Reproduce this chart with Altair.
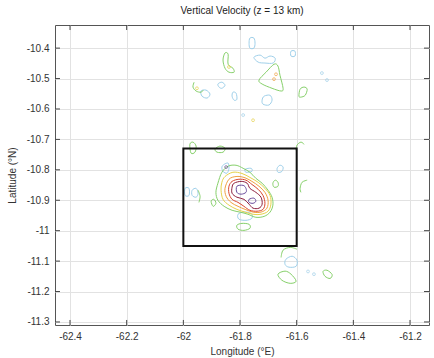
import altair as alt
import pandas as pd

title_text = "Vertical Velocity (z = 13 km)"
x_title = "Longitude (°E)"
y_title = "Latitude (°N)"

lon_ticks = [-62.4, -62.2, -62.0, -61.8, -61.6, -61.4, -61.2]
lat_ticks = [-11.3, -11.2, -11.1, -11.0, -10.9, -10.8, -10.7, -10.6, -10.5, -10.4]
lon_range = [-62.453, -61.133]
lat_range = [-11.31, -10.324]

box_lon = [-62.0, -61.6]
box_lat = [-11.05, -10.73]

levels = ["neg", "w1", "w2", "w3", "w4", "w5", "w6"]
level_colors = ["#9fd0ea", "#86d06a", "#e6d24a", "#f0a040", "#d9452e", "#8c1d3c", "#6a4c9c"]

# closed contour loops, each (lon list, lat list)
closed_neg = [
    ([-61.765, -61.751, -61.747, -61.751, -61.765, -61.768], [-10.367, -10.367, -10.384, -10.400, -10.400, -10.384]),
    ([-61.751, -61.729, -61.712, -61.694, -61.676, -61.683, -61.712, -61.736], [-10.430, -10.423, -10.433, -10.426, -10.433, -10.449, -10.449, -10.446]),
    ([-61.715, -61.694, -61.687, -61.698, -61.719, -61.722], [-10.558, -10.555, -10.571, -10.587, -10.584, -10.571]),
    ([-61.878, -61.864, -61.853, -61.864, -61.874], [-10.518, -10.512, -10.522, -10.532, -10.528]),
    ([-61.825, -61.814, -61.811, -61.821, -61.828], [-10.545, -10.548, -10.568, -10.571, -10.558]),
    ([-61.938, -61.920, -61.906, -61.916, -61.934], [-10.541, -10.538, -10.551, -10.564, -10.558]),
    ([-61.620, -61.606, -61.606, -61.620], [-10.410, -10.410, -10.426, -10.426]),
    ([-61.669, -61.659, -61.648, -61.652, -61.666], [-10.795, -10.785, -10.791, -10.805, -10.808]),
    ([-61.856, -61.842, -61.839, -61.846, -61.860, -61.864], [-10.782, -10.778, -10.795, -10.811, -10.805, -10.791]),
    ([-61.782, -61.761, -61.758, -61.779], [-10.798, -10.795, -10.805, -10.808]),
    ([-61.969, -61.955, -61.948, -61.955, -61.969], [-10.867, -10.861, -10.877, -10.890, -10.884]),
    ([-61.807, -61.786, -61.761, -61.758, -61.779, -61.804], [-10.946, -10.939, -10.943, -10.959, -10.966, -10.962]),
    ([-61.638, -61.616, -61.599, -61.602, -61.627, -61.641], [-11.094, -11.084, -11.097, -11.117, -11.120, -11.111]),
    ([-61.994, -61.980, -61.980, -61.994], [-10.861, -10.861, -10.884, -10.884]),
]

closed_w1 = [
    ([-61.853, -61.842, -61.842, -61.825, -61.821, -61.839, -61.853, -61.860], [-10.416, -10.420, -10.453, -10.466, -10.479, -10.479, -10.466, -10.439]),
    ([-61.680, -61.666, -61.659, -61.648, -61.655, -61.687, -61.722, -61.733, -61.708], [-10.453, -10.459, -10.489, -10.532, -10.541, -10.532, -10.518, -10.505, -10.479]),
    ([-61.592, -61.588, -61.574, -61.563, -61.570, -61.585], [-10.558, -10.535, -10.528, -10.535, -10.555, -10.561]),
    ([-61.977, -61.966, -61.955, -61.959, -61.973], [-10.716, -10.709, -10.722, -10.742, -10.745]),
    ([-61.888, -61.871, -61.853, -61.860, -61.881], [-10.732, -10.722, -10.729, -10.742, -10.742]),
    ([-61.684, -61.676, -61.666, -61.666, -61.680], [-10.844, -10.834, -10.841, -10.854, -10.857]),
    ([-61.902, -61.892, -61.885, -61.895], [-10.903, -10.897, -10.910, -10.920]),
    ([-61.811, -61.793, -61.768, -61.765, -61.786, -61.807], [-10.982, -10.976, -10.979, -10.992, -10.999, -10.995]),
    ([-61.666, -61.641, -61.620, -61.602, -61.623, -61.652], [-11.143, -11.133, -11.143, -11.166, -11.173, -11.163]),
    ([-61.507, -61.493, -61.475, -61.482, -61.500], [-11.134, -11.130, -11.144, -11.157, -11.150]),
    ([-61.864, -61.842, -61.814, -61.789, -61.765, -61.744, -61.722, -61.701, -61.687, -61.684,
      -61.694, -61.715, -61.744, -61.772, -61.800, -61.828, -61.856, -61.878, -61.885, -61.878],
     [-10.808, -10.788, -10.785, -10.795, -10.808, -10.828, -10.844, -10.867, -10.890, -10.916,
      -10.939, -10.953, -10.956, -10.946, -10.939, -10.933, -10.920, -10.900, -10.874, -10.844]),
]

closed_w2 = [
    ([-61.853, -61.825, -61.793, -61.765, -61.736, -61.712, -61.694, -61.691, -61.701,
      -61.726, -61.754, -61.782, -61.811, -61.839, -61.860, -61.867, -61.864],
     [-10.822, -10.808, -10.812, -10.825, -10.841, -10.861, -10.884, -10.913, -10.936,
      -10.946, -10.946, -10.939, -10.930, -10.916, -10.897, -10.867, -10.841]),
]

closed_w3 = [
    ([-61.839, -61.814, -61.786, -61.758, -61.733, -61.712, -61.701, -61.705, -61.726,
      -61.754, -61.782, -61.807, -61.832, -61.849, -61.853],
     [-10.831, -10.822, -10.825, -10.838, -10.854, -10.874, -10.900, -10.926, -10.939,
      -10.939, -10.930, -10.920, -10.907, -10.887, -10.861]),
]

closed_w4 = [
    ([-61.828, -61.804, -61.779, -61.758, -61.736, -61.719, -61.712, -61.719, -61.740,
      -61.765, -61.786, -61.807, -61.828, -61.839, -61.839],
     [-10.838, -10.831, -10.834, -10.848, -10.864, -10.884, -10.910, -10.930, -10.936,
      -10.933, -10.920, -10.907, -10.897, -10.877, -10.854]),
]

closed_w5 = [
    ([-61.821, -61.796, -61.775, -61.765, -61.744, -61.726, -61.722, -61.733, -61.754,
      -61.768, -61.786, -61.811, -61.828, -61.828],
     [-10.844, -10.838, -10.844, -10.861, -10.874, -10.890, -10.913, -10.926, -10.926,
      -10.913, -10.897, -10.890, -10.877, -10.857]),
]

closed_w6 = [
    ([-61.811, -61.789, -61.779, -61.779, -61.796, -61.811], [-10.854, -10.851, -10.861, -10.874, -10.880, -10.874]),
    ([-61.768, -61.751, -61.744, -61.754, -61.768], [-10.897, -10.893, -10.903, -10.910, -10.907]),
]

# open contour pieces
open_w1 = [
    ([-61.962, -61.966, -61.955, -61.938, -61.930], [-10.512, -10.528, -10.541, -10.545, -10.538]),
    ([-61.602, -61.599, -61.585, -61.574], [-10.736, -10.719, -10.709, -10.716]),
    ([-61.563, -61.581, -61.588, -61.585], [-10.834, -10.841, -10.861, -10.874]),
    ([-61.948, -61.941, -61.945], [-10.867, -10.887, -10.907]),
    ([-61.655, -61.648, -61.623, -61.599], [-11.088, -11.064, -11.055, -11.061]),
]

# tiny contour dots
dot_lon = [-61.839, -61.952, -61.754, -61.673, -61.680, -61.789, -61.560, -61.539, -61.511, -61.493, -61.849]
dot_lat = [-10.462, -10.532, -10.637, -10.486, -10.502, -10.620, -11.134, -11.143, -10.482, -10.505, -10.791]
dot_level = ["w2", "w2", "w2", "w3", "w3", "neg", "neg", "neg", "neg", "neg", "w6"]


def shape_rows(groups):
    rows = []
    cid = 0
    for level, shapes in groups:
        for lons, lats in shapes:
            for i, (lo, la) in enumerate(zip(lons, lats)):
                rows.append({"cid": cid, "level": level, "seq": i, "lon": lo, "lat": la})
            cid += 1
    return pd.DataFrame(rows)


closed_df = shape_rows([("neg", closed_neg), ("w1", closed_w1), ("w2", closed_w2),
                        ("w3", closed_w3), ("w4", closed_w4), ("w5", closed_w5), ("w6", closed_w6)])
open_df = shape_rows([("w1", open_w1)])
dots_df = pd.DataFrame({"lon": dot_lon, "lat": dot_lat, "level": dot_level})

xs = alt.Scale(domain=lon_range, nice=False, zero=False)
ys = alt.Scale(domain=lat_range, nice=False, zero=False)
cs = alt.Scale(domain=levels, range=level_colors)
x_axis = alt.Axis(values=lon_ticks, labelExpr="'' + datum.value", title=x_title,
                  titlePadding=5, labelPadding=6)
y_axis = alt.Axis(values=lat_ticks, labelExpr="'' + datum.value", title=y_title,
                  titlePadding=9, labelPadding=6)


def X(field):
    return alt.X(field, type="quantitative", scale=xs, axis=x_axis, title=x_title)


def Y(field):
    return alt.Y(field, type="quantitative", scale=ys, axis=y_axis, title=y_title)


closed_layer = alt.Chart(closed_df).mark_line(interpolate="cardinal-closed", strokeWidth=1, clip=True).encode(
    x=X("lon"), y=Y("lat"),
    color=alt.Color("level:N", scale=cs, legend=None),
    detail="cid:N",
    order="seq:Q",
)

open_layer = alt.Chart(open_df).mark_line(interpolate="cardinal", strokeWidth=1, clip=True).encode(
    x=X("lon"), y=Y("lat"),
    color=alt.Color("level:N", scale=cs, legend=None),
    detail="cid:N",
    order="seq:Q",
)

dots_layer = alt.Chart(dots_df).mark_point(shape="circle", filled=False, size=8, strokeWidth=1).encode(
    x=X("lon"), y=Y("lat"),
    color=alt.Color("level:N", scale=cs, legend=None),
)

box_df = pd.DataFrame({"lon0": [box_lon[0]], "lon1": [box_lon[1]], "lat0": [box_lat[0]], "lat1": [box_lat[1]]})
box_layer = alt.Chart(box_df).mark_rect(filled=False, stroke="#111111", strokeWidth=2).encode(
    x=X("lon0"), x2="lon1:Q",
    y=Y("lat0"), y2="lat1:Q",
)

tick_lon_len = 0.0176
tick_lat_len = 0.0165
vt_rows = []
for t in lon_ticks:
    vt_rows.append({"lon": t, "a": lat_range[0], "b": lat_range[0] + tick_lat_len})
    vt_rows.append({"lon": t, "a": lat_range[1], "b": lat_range[1] - tick_lat_len})
ht_rows = []
for t in lat_ticks:
    ht_rows.append({"lat": t, "a": lon_range[0], "b": lon_range[0] + tick_lon_len})
    ht_rows.append({"lat": t, "a": lon_range[1], "b": lon_range[1] - tick_lon_len})

vticks = alt.Chart(pd.DataFrame(vt_rows)).mark_rule(color="#444444", strokeWidth=1).encode(
    x=X("lon"), y=Y("a"), y2="b:Q",
)
hticks = alt.Chart(pd.DataFrame(ht_rows)).mark_rule(color="#444444", strokeWidth=1).encode(
    y=Y("lat"), x=X("a"), x2="b:Q",
)

chart = alt.layer(closed_layer, open_layer, dots_layer, box_layer, vticks, hticks).properties(
    width=374, height=300,
    autosize=alt.AutoSizeParams(type="none"),
    padding={"left": 55, "top": 25, "right": 5, "bottom": 33},
    title=alt.TitleParams(title_text, fontSize=10, fontWeight="normal", font="Liberation Sans",
                          color="#222222", offset=9, anchor="middle"),
).configure_view(stroke="#555555", strokeWidth=1).configure_axis(
    labelFont="Liberation Sans", labelFontSize=10, labelColor="#333333",
    titleFont="Liberation Sans", titleFontSize=10, titleFontWeight="normal", titleColor="#333333",
    gridColor="#e2e2e2", gridWidth=1, domain=False, ticks=False, tickSize=0,
)

chart.save("out.html", embed_options={"renderer": "svg", "actions": False})
